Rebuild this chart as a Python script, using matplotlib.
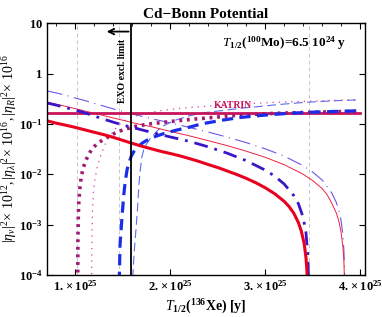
import numpy as np
import matplotlib
matplotlib.use("Agg")
import matplotlib.pyplot as plt

plt.rcParams['font.family'] = ['Liberation Serif', 'DejaVu Serif']
plt.rcParams['mathtext.fontset'] = 'custom'
plt.rcParams['mathtext.rm'] = 'Liberation Serif'
plt.rcParams['mathtext.it'] = 'Liberation Serif:italic'
plt.rcParams['mathtext.bf'] = 'Liberation Serif:bold'

# values, T in units of 1e25 y
t_red_thick = [0.7, 0.8, 0.9, 1.0, 1.1, 1.2, 1.3, 1.4, 1.5, 1.6, 1.7, 1.8, 1.9, 2.0, 2.1, 2.2, 2.3, 2.4, 2.5,
               2.6, 2.7, 2.8, 2.9, 3.0, 3.1, 3.2, 3.25, 3.3, 3.35, 3.38, 3.41, 3.43, 3.44, 3.448, 3.452]
v_red_thick = [0.115, 0.103, 0.094, 0.085, 0.076, 0.068, 0.061, 0.054, 0.047, 0.041, 0.036, 0.032, 0.0285,
               0.0258, 0.0232, 0.0205, 0.018, 0.0156, 0.0136, 0.0116, 0.0099, 0.0083, 0.0068, 0.0054, 0.0041,
               0.0029, 0.0023, 0.0017, 0.0011, 0.00075, 0.00043, 0.00022, 0.00012, 0.00004, 1e-6]

t_red_thin = [0.7, 0.8, 0.9, 1.0, 1.1, 1.2, 1.3, 1.4, 1.5, 1.6, 1.7, 1.8, 1.9, 2.0, 2.2, 2.4, 2.6, 2.8, 3.0,
              3.2, 3.4, 3.5, 3.6, 3.65, 3.7, 3.75, 3.78, 3.80, 3.82, 3.83, 3.836, 3.84]
v_red_thin = [0.27, 0.245, 0.222, 0.2, 0.18, 0.162, 0.146, 0.131, 0.118, 0.106, 0.096, 0.088, 0.079, 0.071,
              0.058, 0.0464, 0.037, 0.0287, 0.0217, 0.0155, 0.01, 0.0075, 0.0052, 0.004, 0.0027, 0.0017,
              0.0011, 0.0007, 0.00035, 0.00018, 0.00007, 1e-6]

t_dd_thick = [0.7, 0.8, 0.9, 1.0, 1.1, 1.2, 1.3, 1.4, 1.5, 1.6, 1.7, 1.8, 1.9, 2.0, 2.2, 2.4, 2.6, 2.8, 3.0,
              3.1, 3.2, 3.3, 3.35, 3.4, 3.43, 3.45, 3.456, 3.46]
v_dd_thick = [0.26, 0.235, 0.21, 0.188, 0.166, 0.143, 0.124, 0.108, 0.095, 0.085, 0.076, 0.068, 0.061, 0.055,
              0.045, 0.035, 0.0262, 0.0186, 0.0121, 0.0092, 0.0064, 0.0038, 0.0026, 0.0014, 0.00069,
              0.00023, 0.00009, 1e-6]

t_dd_thin = [0.7, 0.8, 0.9, 1.0, 1.1, 1.2, 1.3, 1.4, 1.5, 1.6, 1.8, 2.0, 2.2, 2.4, 2.6, 2.8, 3.0, 3.2, 3.4,
             3.5, 3.6, 3.7, 3.75, 3.78, 3.80, 3.82, 3.83, 3.836, 3.84]
v_dd_thin = [0.45, 0.41, 0.37, 0.325, 0.29, 0.255, 0.225, 0.198, 0.176, 0.158, 0.127, 0.105, 0.085, 0.0688,
             0.0546, 0.0425, 0.032, 0.0229, 0.0148, 0.0111, 0.0077, 0.0043, 0.00275, 0.0018, 0.0012,
             0.0006, 0.0003, 0.00012, 1e-6]

t_katrin = [0.70, 4.00]
v_katrin = [0.165, 0.165]

t_dot_thick = [1.0238, 1.0245, 1.026, 1.03, 1.035, 1.045, 1.06, 1.08, 1.105, 1.14, 1.176, 1.22, 1.28, 1.35,
               1.456, 1.55, 1.63, 1.75, 1.9, 2.03, 2.2, 2.39, 2.6, 2.8, 3.0, 3.25, 3.5, 3.75, 4.0]
v_dot_thick = [1e-6, 0.0001, 0.0005, 0.0015, 0.0027, 0.005, 0.0085, 0.013, 0.018, 0.025, 0.032, 0.039, 0.047,
               0.057, 0.071, 0.081, 0.089, 0.098, 0.106, 0.113, 0.122, 0.131, 0.143, 0.152, 0.159, 0.165,
               0.170, 0.175, 0.178]

t_dot_thin = [1.169, 1.17, 1.175, 1.18, 1.19, 1.2, 1.23, 1.27, 1.32, 1.375, 1.42, 1.47, 1.53, 1.6, 1.7, 1.8,
              1.9, 2.1, 2.32, 2.6, 2.92, 3.2, 3.5, 3.75, 4.0]
v_dot_thin = [1e-6, 0.0001, 0.0008, 0.002, 0.0045, 0.007, 0.014, 0.025, 0.042, 0.061, 0.08, 0.1, 0.12, 0.138,
              0.155, 0.17, 0.183, 0.203, 0.22, 0.24, 0.258, 0.272, 0.284, 0.293, 0.3]

t_dash_thick = [1.462, 1.463, 1.47, 1.485, 1.495, 1.51, 1.526, 1.545, 1.56, 1.589, 1.62, 1.65, 1.7, 1.75, 1.85,
                1.93, 2.05, 2.2, 2.33, 2.53, 2.72, 2.92, 3.1, 3.3, 3.5, 3.75, 4.0]
v_dash_thick = [1e-6, 0.0001, 0.0004, 0.001, 0.0018, 0.004, 0.0075, 0.0125, 0.016, 0.023, 0.029, 0.034,
                0.041, 0.047, 0.057, 0.064, 0.074, 0.086, 0.1, 0.117, 0.133, 0.145, 0.155, 0.164, 0.171,
                0.177, 0.182]

t_dash_thin = [1.6, 1.605, 1.62, 1.64, 1.655, 1.67, 1.685, 1.7, 1.72, 1.75, 1.8, 1.87, 1.93, 2.05, 2.2, 2.37,
               2.57, 2.75, 2.92, 3.15, 3.37, 3.57, 3.77, 4.0]
v_dash_thin = [1e-6, 0.0001, 0.0003, 0.0009, 0.0022, 0.0066, 0.013, 0.022, 0.031, 0.04, 0.055, 0.075, 0.092,
               0.118, 0.145, 0.168, 0.186, 0.205, 0.22, 0.243, 0.263, 0.278, 0.29, 0.3]

t_gray = [1.02, 1.46, 3.46]
t_exo = 1.59

fig = plt.figure(figsize=(3.82, 3.17), dpi=100)
ax = fig.add_axes([0.123, 0.1325, 0.832, 0.7945])

for t in t_gray:
    ax.axvline(t, color='#c8c8c8', lw=0.7, ls=(0, (4, 3)), zorder=1)
ax.axvline(t_exo, color='black', lw=1.3, zorder=5)

ax.plot(t_dd_thin, v_dd_thin, color='#6f55e8', lw=0.8, ls=(0, (14, 5, 1, 5)))
ax.plot(t_dash_thin, v_dash_thin, color='#5a6cf0', lw=0.8, ls=(0, (8, 4)))
ax.plot(t_dot_thin, v_dot_thin, color='#d8409a', lw=0.9, ls=(0, (1, 4)))
ax.plot(t_red_thin, v_red_thin, color='#ee2240', lw=0.7)
ax.plot(t_katrin, v_katrin, color='#c8145a', lw=2.0)
ax.plot(t_dot_thick, v_dot_thick, color='#a01a72', lw=2.6, ls=(0, (0.8, 1.3)))
ax.plot(t_dash_thick, v_dash_thick, color='#1a2ee8', lw=2.3, ls=(0, (3.5, 2)))
ax.plot(t_dd_thick, v_dd_thick, color='#3a16c8', lw=2.0, ls=(0, (5, 2.5, 1, 2.5)))
ax.plot(t_red_thick, v_red_thick, color='#e8001e', lw=2.2)

ax.set_yscale('log')
ax.set_xlim(0.70, 4.05)
ax.set_ylim(1e-4, 10)

ax.set_xticks([1, 2, 3, 4])
ax.set_xticklabels([r'$\mathbf{1.\times10^{25}}$', r'$\mathbf{2.\times10^{25}}$',
                    r'$\mathbf{3.\times10^{25}}$', r'$\mathbf{4.\times10^{25}}$'], fontsize=9)
ax.set_xticks(np.arange(0.8, 4.05, 0.2), minor=True)
ax.set_yticks([1e-4, 1e-3, 1e-2, 1e-1, 1, 10])
ax.set_yticklabels([r'$\mathbf{10^{-4}}$', r'$\mathbf{10^{-3}}$', r'$\mathbf{10^{-2}}$',
                    r'$\mathbf{10^{-1}}$', r'$\mathbf{1}$', r'$\mathbf{10}$'], fontsize=9)
ax.yaxis.set_minor_locator(matplotlib.ticker.NullLocator())
ax.tick_params(which='major', direction='in', top=True, right=True, length=4, width=0.8, pad=3)
ax.tick_params(which='minor', direction='in', top=True, bottom=False, length=2.5, width=0.6)
for s in ax.spines.values():
    s.set_linewidth(1.0)

ax.set_title('Cd\u2212Bonn Potential', fontsize=11, fontweight='bold', pad=4)
ax.set_xlabel(r'$\mathbf{\mathit{T}_{1/2}(^{136}Xe)\ [y]}$', fontsize=10, labelpad=3)
ax.set_ylabel(r'$|\eta_\nu|^2\!\times\,10^{12},|\eta_\lambda|^2\!\times\,10^{16},|\eta_R|^2\!\times\,10^{16}$',
              fontsize=10, labelpad=0)

ax.text(0.55, 0.955, r'$\mathbf{\mathit{T}_{1/2}(^{100}Mo)\!=\!6.5\ 10^{24}\ y}$', transform=ax.transAxes,
        fontsize=9.5, va='top', ha='left')
ax.text(2.66, 0.19, 'KATRIN', color='#c8145a', fontsize=7, fontweight='bold', ha='center', va='bottom')
ax.text(1.50, 1.1, 'EXO excl. limit', rotation=90, fontsize=7, fontweight='bold',
        ha='center', va='center')
ax.annotate('', xy=(1.30, 6.8), xytext=(1.59, 6.8),
            arrowprops=dict(arrowstyle='->', color='black', lw=1.3))

fig.savefig('out.png', dpi=100)
